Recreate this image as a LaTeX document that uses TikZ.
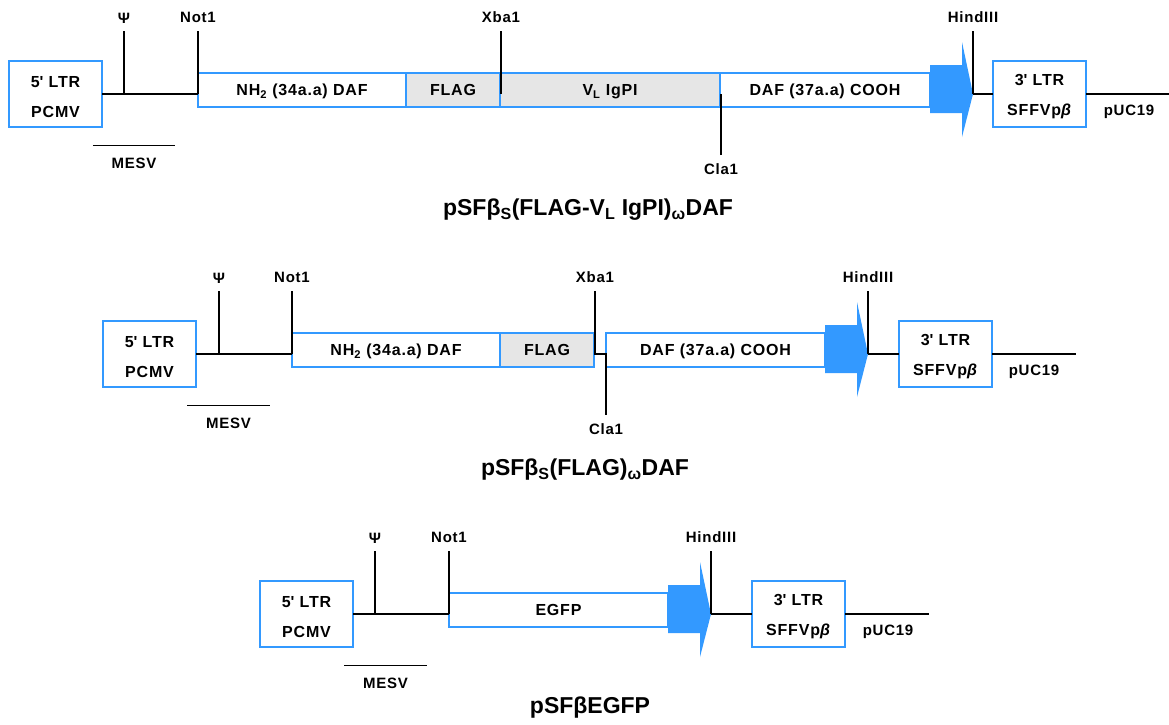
\documentclass[tikz,border=0pt]{standalone}
\usepackage{fontspec}
\setmainfont{Liberation Sans}
\newfontfamily\spacedfont[LetterSpace=5]{Liberation Sans}
\usepackage{tikz}
\usetikzlibrary{positioning}
\definecolor{cBlue}{HTML}{3399FF}
\definecolor{cTag}{HTML}{E6E6E6}
\tikzset{
  ltr-box/.style={draw=cBlue,line width=1.6pt,fill=white,minimum width=93pt,
    minimum height=66pt,inner sep=0pt,outer sep=0pt,align=center,text height=46.5pt,
    font=\spacedfont\bfseries\fontsize{16}{30}\selectfont},
  gene-box/.style={draw=cBlue,line width=1.6pt,fill=white,minimum height=34pt,
    inner sep=0pt,outer sep=0pt,text height=11.5pt,text depth=0pt,
    font=\spacedfont\bfseries\fontsize{16}{18}\selectfont},
  gene-tag/.style={fill=cTag},
  site-top/.style={font=\spacedfont\bfseries\fontsize{15}{18}\selectfont,inner sep=0pt,
    outer ysep=8pt,anchor=south},
  site-bottom/.style={font=\spacedfont\bfseries\fontsize{15}{18}\selectfont,inner sep=0pt,
    outer ysep=9pt,anchor=north},
  bar-label/.style={font=\spacedfont\bfseries\fontsize{15}{18}\selectfont,minimum width=82pt,
    inner xsep=0pt,inner ysep=12pt},
  plain-label/.style={font=\spacedfont\bfseries\fontsize{15}{18}\selectfont,inner sep=0pt},
  construct/.style={font=\bfseries\fontsize{23}{26}\selectfont,inner sep=0pt},
  backbone/.style={line width=1.2pt,draw=black},
  cassette/.style={fill=cBlue},
}

\begin{document}
\begin{tikzpicture}[x=1pt,y=-1pt]
  \useasboundingbox (0,0) rectangle (1169,724);

  % construct 1
  \node[ltr-box] (ltr5a) at (55.5,94) {5\textquotesingle{} LTR\\PCMV};
  \node[gene-box,anchor=west,minimum width=208pt] (nh1) at (198,90) {NH\textsubscript{2} (34a.a) DAF};
  \node[gene-box,gene-tag,minimum width=94pt,right=0pt of nh1] (flag1) {FLAG};
  \node[gene-box,gene-tag,minimum width=220pt,right=0pt of flag1] (vl1) {V\textsubscript{L} IgPI};
  \node[gene-box,minimum width=210pt,right=0pt of vl1] (daf1) {DAF (37a.a) COOH};
  \coordinate (tip1) at (973,94);
  \fill[cassette,shift={(tip1)}] (-43,-29) -- (-11,-29) -- (-11,-52) -- (0,0)
    -- (-11,43) -- (-11,19) -- (-43,19) -- cycle;
  \node[ltr-box] (ltr3a) at (1039.5,94) {3\textquotesingle{} LTR\\SFFVp\textit{β}};
  \coordinate (end1) at (1169,94);
  \draw[backbone] (ltr5a.east) -- (ltr5a.east -| nh1.west);
  \draw[backbone] (tip1) -- (ltr3a.west);
  \draw[backbone] (ltr3a.east) -- (end1);
  \node[site-top] (psi1) at (124,31) {Ψ};
  \node[site-top] (not1a) at (198,31) {Not1};
  \node[site-top] (xba1a) at (501,31) {Xba1};
  \node[site-bottom] (cla1a) at (721,155) {Cla1};
  \node[site-top] (hind1) at (973,31) {HindIII};
  \draw[backbone] (psi1.south) -- (psi1.south |- ltr5a.east);
  \draw[backbone] (not1a.south) -- (not1a.south |- ltr5a.east);
  \draw[backbone] (xba1a.south) -- (xba1a.south |- ltr5a.east);
  \draw[backbone] (cla1a.north) -- (cla1a.north |- ltr5a.east);
  \draw[backbone] (hind1.south) -- (tip1);
  \node[plain-label] (puc1) at (1129,112) {pUC19};
  \node[bar-label] (mesv1) at (134,163) {MESV};
  \draw[backbone] (mesv1.north west) -- (mesv1.north east);
  \node[construct] (name1) at (588,210)
    {pSFβ\textsubscript{S}(FLAG-V\textsubscript{L} IgPI)\textsubscript{ω}DAF};

  % construct 2
  \node[ltr-box] (ltr5b) at (149.5,354) {5\textquotesingle{} LTR\\PCMV};
  \node[gene-box,anchor=west,minimum width=208pt] (nh2) at (292,350) {NH\textsubscript{2} (34a.a) DAF};
  \node[gene-box,gene-tag,minimum width=94pt,right=0pt of nh2] (flag2) {FLAG};
  \node[gene-box,minimum width=219pt,right=12pt of flag2] (daf2) {DAF (37a.a) COOH};
  \coordinate (tip2) at (868,354);
  \fill[cassette,shift={(tip2)}] (-43,-29) -- (-11,-29) -- (-11,-52) -- (0,0)
    -- (-11,43) -- (-11,19) -- (-43,19) -- cycle;
  \node[ltr-box] (ltr3b) at (945.5,354) {3\textquotesingle{} LTR\\SFFVp\textit{β}};
  \coordinate (end2) at (1076,354);
  \draw[backbone] (ltr5b.east) -- (ltr5b.east -| nh2.west);
  \draw[backbone] (tip2) -- (ltr3b.west);
  \draw[backbone] (ltr3b.east) -- (end2);
  \node[site-top] (psi2) at (219,291) {Ψ};
  \node[site-top] (not1b) at (292,291) {Not1};
  \node[site-top] (xba1b) at (595,291) {Xba1};
  \node[site-bottom] (cla1b) at (606,415) {Cla1};
  \node[site-top] (hind2) at (868,291) {HindIII};
  \draw[backbone] (psi2.south) -- (psi2.south |- ltr5b.east);
  \draw[backbone] (not1b.south) -- (not1b.south |- ltr5b.east);
  \draw[backbone] (xba1b.south) -- (xba1b.south |- ltr5b.east)
    -- (cla1b.north |- ltr5b.east) -- (cla1b.north);
  \draw[backbone] (hind2.south) -- (tip2);
  \node[plain-label] (puc2) at (1034,372) {pUC19};
  \node[bar-label] (mesv2) at (228.5,423) {MESV};
  \draw[backbone] (mesv2.north west) -- (mesv2.north east);
  \node[construct] (name2) at (585,470)
    {pSFβ\textsubscript{S}(FLAG)\textsubscript{ω}DAF};

  % construct 3
  \node[ltr-box] (ltr5c) at (306.5,614) {5\textquotesingle{} LTR\\PCMV};
  \node[gene-box,anchor=west,minimum width=219pt] (egfp) at (449,610) {EGFP};
  \coordinate (tip3) at (711,614);
  \fill[cassette,shift={(tip3)}] (-43,-29) -- (-11,-29) -- (-11,-52) -- (0,0)
    -- (-11,43) -- (-11,19) -- (-43,19) -- cycle;
  \node[ltr-box] (ltr3c) at (798.5,614) {3\textquotesingle{} LTR\\SFFVp\textit{β}};
  \coordinate (end3) at (929,614);
  \draw[backbone] (ltr5c.east) -- (ltr5c.east -| egfp.west);
  \draw[backbone] (tip3) -- (ltr3c.west);
  \draw[backbone] (ltr3c.east) -- (end3);
  \node[site-top] (psi3) at (375,551) {Ψ};
  \node[site-top] (not1c) at (449,551) {Not1};
  \node[site-top] (hind3) at (711,551) {HindIII};
  \draw[backbone] (psi3.south) -- (psi3.south |- ltr5c.east);
  \draw[backbone] (not1c.south) -- (not1c.south |- ltr5c.east);
  \draw[backbone] (hind3.south) -- (tip3);
  \node[plain-label] (puc3) at (888,632) {pUC19};
  \node[bar-label] (mesv3) at (385.5,683) {MESV};
  \draw[backbone] (mesv3.north west) -- (mesv3.north east);
  \node[construct] (name3) at (590,708) {pSFβEGFP};
\end{tikzpicture}
\end{document}
